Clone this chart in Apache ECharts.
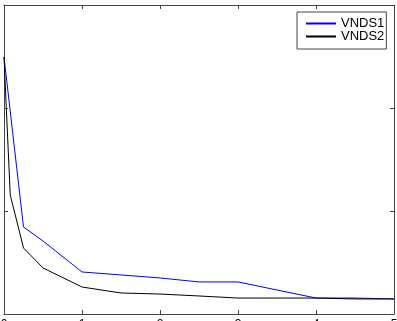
<!DOCTYPE html>
<html>
<head>
<meta charset="utf-8">
<script src="https://cdn.jsdelivr.net/npm/echarts@6/dist/echarts.min.js"></script>
<style>
  html, body { margin: 0; padding: 0; background: #fff; }
  #chart { width: 397px; height: 321px; }
</style>
</head>
<body>
<div id="chart"></div>
<script>
// x positions of samples and curve values
const xTicks = ['0', '1', '2', '3', '4', '5'];
const vnds1X = [0, 0.25, 0.5, 1, 1.5, 2, 2.5, 3, 3.5, 4, 4.5, 5];
const vnds1Y = [249.5, 84.5, 70.9, 40.8, 37.9, 35, 31.1, 31.1, 23.3, 15.5, 15.5, 14.6];
const vnds2X = [0, 0.08, 0.25, 0.5, 1, 1.5, 2, 2.5, 3, 3.5, 4, 4.5, 5];
const vnds2Y = [249.5, 115.5, 64.1, 44.7, 26.2, 20.4, 19.4, 17.5, 15.5, 15.5, 15.5, 14.6, 14.6];

const axisColor = '#444';
const chart = echarts.init(document.getElementById('chart'));

const zip = (xs, ys) => xs.map((x, i) => [x, ys[i]]);

const xBase = {
  type: 'value',
  min: 0,
  max: 5,
  interval: 1,
  axisLine: { show: true, onZero: false, lineStyle: { color: axisColor, width: 1 } },
  axisTick: { show: true, inside: true, length: 4, lineStyle: { color: axisColor } },
  splitLine: { show: false }
};
const yBase = {
  type: 'value',
  min: 0,
  max: 300,
  interval: 100,
  axisLine: { show: true, onZero: false, lineStyle: { color: axisColor, width: 1 } },
  axisTick: { show: true, inside: true, length: 4, lineStyle: { color: axisColor } },
  axisLabel: { show: false },
  splitLine: { show: false }
};

const option = {
  animation: false,
  backgroundColor: '#fff',
  color: ['#0000ff', '#000000'],
  grid: { left: 4, right: 3, top: 5, bottom: 7, containLabel: false, outerBoundsMode: 'none' },
  xAxis: [
    Object.assign({}, xBase, {
      position: 'bottom',
      axisLabel: {
        show: true, margin: 5, color: '#000', fontSize: 12,
        fontFamily: 'Liberation Sans',
        formatter: v => xTicks[Math.round(v)]
      }
    }),
    Object.assign({}, xBase, { position: 'top', axisLabel: { show: false } })
  ],
  yAxis: [
    Object.assign({}, yBase, { position: 'left' }),
    Object.assign({}, yBase, { position: 'right' })
  ],
  legend: {
    orient: 'vertical',
    left: 297,
    top: 12,
    itemWidth: 30,
    itemHeight: 11,
    itemGap: 0,
    itemTextGap: 4,
    padding: [5, 2, 6, 8],
    borderColor: axisColor,
    borderWidth: 1,
    backgroundColor: '#fff',
    itemStyle: { opacity: 0 },
    textStyle: { fontFamily: 'Liberation Sans', fontSize: 13, color: '#000', lineHeight: 11 },
    data: ['VNDS1', 'VNDS2']
  },
  series: [
    {
      name: 'VNDS1',
      type: 'line',
      data: zip(vnds1X, vnds1Y),
      symbol: 'none',
      color: '#0000ff',
      lineStyle: { color: '#0000ff', width: 1 }
    },
    {
      name: 'VNDS2',
      type: 'line',
      data: zip(vnds2X, vnds2Y),
      symbol: 'none',
      color: '#000000',
      lineStyle: { color: '#000000', width: 1 }
    }
  ]
};

chart.setOption(option);
</script>
</body>
</html>
